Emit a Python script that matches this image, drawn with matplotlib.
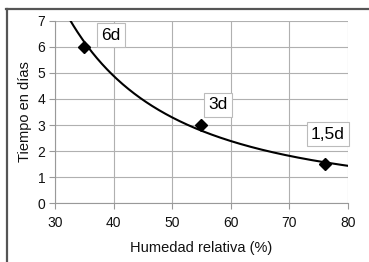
import numpy as np
import matplotlib
matplotlib.use('Agg')
import matplotlib.pyplot as plt
from matplotlib.lines import Line2D

plt.rcParams['font.family'] = ['Liberation Sans', 'DejaVu Sans']

# Datos
humedad = [35, 55, 76]
dias = [6, 3, 1.5]
etiquetas = ['6d', '3d', '1,5d']
pos_etiquetas = [(39.6, 6.45), (57.8, 3.77), (76.6, 2.65)]
xticks = [30, 40, 50, 60, 70, 80]
yticks = [0, 1, 2, 3, 4, 5, 6, 7]

# Linea de tendencia potencial (ajuste log-log de los puntos)
b, ln_a = np.polyfit(np.log(humedad), np.log(dias), 1)
xs = np.linspace(30, 80, 300)
ys = np.exp(ln_a) * xs ** b

fig = plt.figure(figsize=(3.69, 2.62), dpi=100)
ax = fig.add_axes([0.149, 0.225, 0.794, 0.695])

ax.plot(xs, ys, color='black', linewidth=1.5, zorder=3)
ax.plot(humedad, dias, linestyle='none', marker='D', markersize=6.5,
        color='black', zorder=4)

for t, (x, y) in zip(etiquetas, pos_etiquetas):
    ax.text(x, y, t, fontsize=12.5, ha='center', va='center', zorder=5,
            bbox=dict(boxstyle='square,pad=0.25', facecolor='white',
                      edgecolor='#bbbbbb', linewidth=0.8))

ax.set_xlim(30, 80)
ax.set_ylim(0, 7)
ax.set_xticks(xticks)
ax.set_yticks(yticks)
ax.grid(True, color='#b0b0b0', linewidth=0.8)
ax.set_axisbelow(True)
for s in ['top', 'right']:
    ax.spines[s].set_visible(False)
for s in ['left', 'bottom']:
    ax.spines[s].set_color('#999999')
    ax.spines[s].set_linewidth(0.8)
ax.tick_params(axis='both', labelsize=10, color='#999999', length=4,
               width=0.8, labelcolor='#111111')
ax.tick_params(axis='x', pad=5)
ax.tick_params(axis='y', pad=3)

ax.set_xlabel('Humedad relativa (%)', fontsize=10.5, labelpad=8, color='#111111')
ax.set_ylabel('Tiempo en días', fontsize=10.5, labelpad=4, color='#111111')

# Marco de la figura
fig.add_artist(Line2D([0.017, 1.0], [0.967, 0.967], transform=fig.transFigure,
                      color='#555555', linewidth=1.6))
fig.add_artist(Line2D([0.019, 0.019], [0.0, 0.967], transform=fig.transFigure,
                      color='#555555', linewidth=1.6))

fig.savefig('out.png', dpi=100)
